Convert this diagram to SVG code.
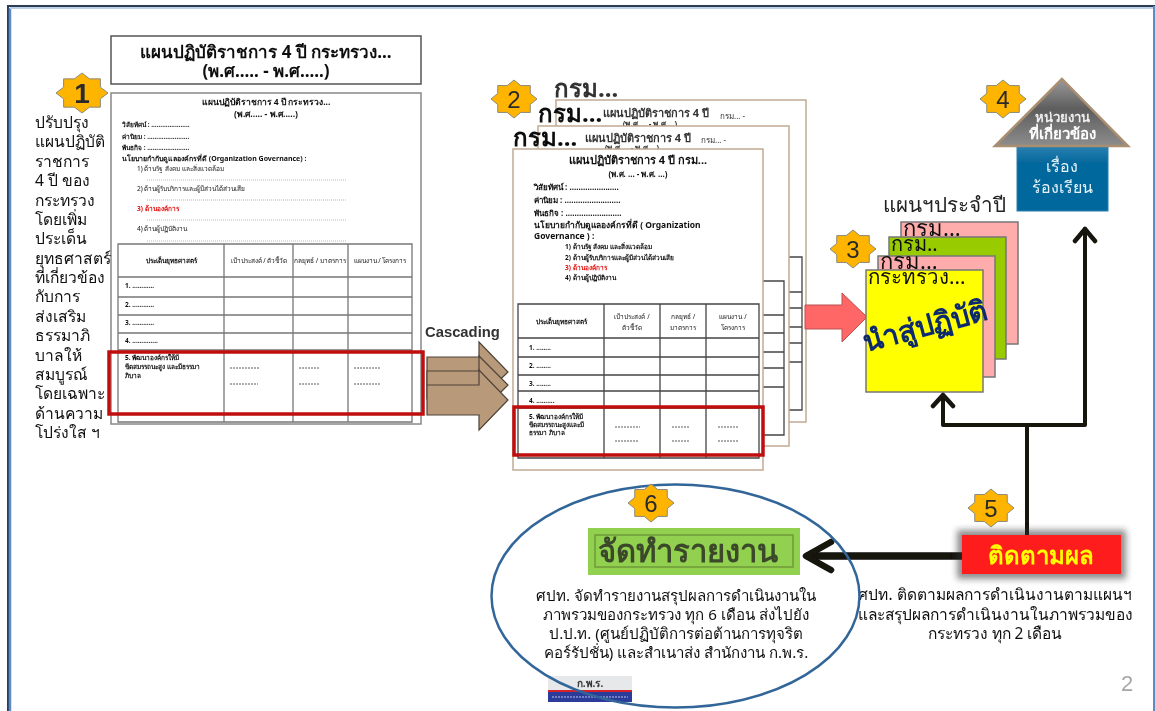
<svg xmlns="http://www.w3.org/2000/svg" width="1155" height="711" viewBox="0 0 1155 711">
<style>
text{font-family:"Noto Sans","DejaVu Sans","Liberation Sans",sans-serif;fill:#111}
.page{fill:#fff;stroke:#c2ab94;stroke-width:1.5}
.tb{fill:none;stroke:#444;stroke-width:1.3}
.tb1{fill:none;stroke:#777;stroke-width:1.3}
.red{fill:none;stroke:#c00d0d;stroke-width:3.5}
.star{fill:#ffb400;stroke:#8a8a7a;stroke-width:1;vector-effect:non-scaling-stroke}
.num{font-family:"Liberation Sans",sans-serif;font-size:24px;text-anchor:middle;fill:#2a2a2a}
.c{text-anchor:middle}
.t6{font-size:6.5px}
.t7{font-size:8.6px}
.b{font-weight:700}
.left{font-size:15.6px}
.card{stroke:#777;stroke-width:1.5}
.arr{fill:#b8997a;stroke:#4d4338;stroke-width:1.2}
.wire{fill:none;stroke:#15120f;stroke-linecap:round;stroke-linejoin:round}
.dash{stroke:#999;stroke-width:.7;stroke-dasharray:1 1}
.dashd{stroke:#333;stroke-width:.8;stroke-dasharray:2 1}
.cap{font-size:15.1px;text-anchor:middle}
.cap2{font-size:15.5px;text-anchor:middle}
</style>
<defs>
<polygon id="s8" class="star" points="1,0 .707,.293 .707,.707 .293,.707 0,1 -.293,.707 -.707,.707 -.707,.293 -1,0 -.707,-.293 -.707,-.707 -.293,-.707 0,-1 .293,-.707 .707,-.707 .707,-.293"/>
<linearGradient id="roof" x1="0" y1="0" x2="0" y2="1"><stop offset="0" stop-color="#9a9a9a"/><stop offset=".45" stop-color="#5d5d5d"/><stop offset="1" stop-color="#8d8d8d"/></linearGradient>
<linearGradient id="fade" x1="0" y1="0" x2="0" y2="1"><stop offset="0" stop-color="#2a7fb0"/><stop offset=".25" stop-color="#05689c"/><stop offset="1" stop-color="#05689c"/></linearGradient>
<filter id="soft" filterUnits="userSpaceOnUse" x="0" y="0" width="1155" height="711"><feGaussianBlur stdDeviation=".3"/></filter>
<filter id="all" filterUnits="userSpaceOnUse" x="0" y="0" width="1155" height="711"><feGaussianBlur stdDeviation=".35"/></filter>
<filter id="glow" x="-10%" y="-20%" width="120%" height="140%"><feGaussianBlur stdDeviation="3"/></filter>
</defs>
<rect width="1155" height="711" fill="#fff"/>
<g id="diagram" filter="url(#all)">
<g id="frame">
<path d="M8 711V6H1155" fill="none" stroke="#2c3e55" stroke-width="2"/>
<path d="M10 711V8" fill="none" stroke="#5b8bc9" stroke-width="2.5"/>
<path d="M10 8H1155" fill="none" stroke="#bcd0e8" stroke-width="2"/>
<path d="M1154 6V711" fill="none" stroke="#5b8bc9" stroke-width="2"/>
</g>

<g id="plan-ministry">
<rect x="111" y="36" width="310" height="48" fill="#fff" stroke="#555" stroke-width="1.5"/>
<text class="c b" x="266" y="58" font-size="17">แผนปฏิบัติราชการ 4 ปี กระทรวง...</text>
<text class="c b" x="266" y="77" font-size="17">(พ.ศ..... - พ.ศ.....)</text>
<rect x="111" y="93" width="310" height="331" fill="#fff" stroke="#888" stroke-width="1.5"/>
<g filter="url(#soft)">
<text class="c t7 b" x="266" y="105">แผนปฏิบัติราชการ 4 ปี กระทรวง...</text>
<text class="c t7 b" x="266" y="117">(พ.ศ..... - พ.ศ.....)</text>
<text class="t6 b" x="122" y="127">วิสัยทัศน์ : .....................</text>
<text class="t6 b" x="122" y="139">ค่านิยม : .......................</text>
<text class="t6 b" x="122" y="150">พันธกิจ : .......................</text>
<text class="b" font-size="7" x="122" y="161">นโยบายกำกับดูแลองค์กรที่ดี (Organization Governance) :</text>
<text class="t6" x="137" y="171">1) ด้านรัฐ สังคม และสิ่งแวดล้อม</text>
<text class="t6" x="137" y="191">2) ด้านผู้รับบริการและผู้มีส่วนได้ส่วนเสีย</text>
<text class="t6 b" x="137" y="211" style="fill:#e01010">3) ด้านองค์การ</text>
<text class="t6" x="137" y="231">4) ด้านผู้ปฏิบัติงาน</text>
<path class="dash" d="M147 180H346M147 200H346M147 220H346M147 241H346"/>
<text class="c t6 b" x="171" y="263">ประเด็นยุทธศาสตร์</text>
<text class="c t6" x="259" y="263">เป้าประสงค์ / ตัวชี้วัด</text>
<text class="c t6" x="320" y="263">กลยุทธ์ / มาตรการ</text>
<text class="c t6" x="380" y="263">แผนงาน / โครงการ</text>
<text class="t6 b" x="125" y="288">1. ............</text>
<text class="t6 b" x="125" y="307">2. ............</text>
<text class="t6 b" x="125" y="325">3. ............</text>
<text class="t6 b" x="125" y="343">4. ..............</text>
<text class="t6 b" x="125" y="360">5. พัฒนาองค์กรให้มี</text>
<text class="t6 b" x="125" y="369">ขีดสมรรถนะสูง และมีธรรมา</text>
<text class="t6 b" x="125" y="378">ภิบาล</text>
<path class="dashd" d="M230 368H260M230 384H258M299 368H320M299 384H320M354 368H380M354 384H380"/>
</g>
<path class="tb1" d="M118 244H412V422H118ZM118 277H412M118 297H412M118 315H412M118 333H412M118 350H412M224 244V422M293 244V422M348 244V422"/>
<rect class="red" x="109" y="352" width="314" height="62"/>
</g>

<g id="note-1">
<text class="left" x="35" y="128">ปรับปรุง</text>
<text class="left" x="35" y="147">แผนปฏิบัติ</text>
<text class="left" x="35" y="167">ราชการ</text>
<text class="left" x="35" y="186">4 ปี ของ</text>
<text class="left" x="35" y="206">กระทรวง</text>
<text class="left" x="35" y="225">โดยเพิ่ม</text>
<text class="left" x="35" y="244">ประเด็น</text>
<text class="left" x="35" y="264">ยุทธศาสตร์</text>
<text class="left" x="35" y="283">ที่เกี่ยวข้อง</text>
<text class="left" x="35" y="302">กับการ</text>
<text class="left" x="35" y="322">ส่งเสริม</text>
<text class="left" x="35" y="341">ธรรมาภิ</text>
<text class="left" x="35" y="361">บาลให้</text>
<text class="left" x="35" y="380">สมบูรณ์</text>
<text class="left" x="35" y="399">โดยเฉพาะ</text>
<text class="left" x="35" y="419">ด้านความ</text>
<text class="left" x="35" y="438">โปร่งใส ฯ</text>
</g>
<g id="badge-1"><use href="#s8" transform="translate(82 93) scale(26 20)"/><text class="num b" style="font-size:28px" x="82" y="103">1</text></g>

<g id="cascading">
<text class="b" x="425" y="337" font-size="14.8" style="font-family:'Liberation Sans',sans-serif;fill:#333">Cascading</text>
<path class="arr" d="M427 357H479V342L508 372L479 400V385H427Z"/>
<path class="arr" d="M427 371H479V356L508 385L479 414V399H427Z"/>
<path class="arr" d="M427 385H479V370L508 400L479 430V415H427Z"/>
</g>

<g id="plan-departments">
<text class="b" x="554" y="97" font-size="24" style="fill:#333">กรม...</text>
<rect class="page" x="556" y="100" width="250" height="322"/>
<g filter="url(#soft)">
<text class="b" x="603" y="117" font-size="11" style="fill:#333">แผนปฏิบัติราชการ 4 ปี</text>
<text x="720" y="119" font-size="8" style="fill:#333">กรม...  -</text>
<text class="c b" x="650" y="127" font-size="8" style="fill:#333">(พ.ศ.... - พ.ศ....)</text>
</g>
<path class="tb" d="M720 257H802V410H720M720 292H802M720 308H802M720 327H802M720 343H802M720 362H802"/>
<text class="b" x="538" y="122" font-size="24">กรม...</text>
<rect class="page" x="538" y="126" width="251" height="320"/>
<g filter="url(#soft)">
<text class="b" x="585" y="142" font-size="11" style="fill:#333">แผนปฏิบัติราชการ 4 ปี</text>
<text x="701" y="143" font-size="8" style="fill:#333">กรม...  -</text>
<text class="c b" x="632" y="151" font-size="8" style="fill:#333">(พ.ศ.... - พ.ศ....)</text>
</g>
<path class="tb" d="M700 281H784V435H700M700 315H784M700 333H784M700 352H784M700 368H784M700 387H784"/>
<text class="b" x="513" y="146" font-size="24">กรม...</text>
<rect class="page" x="513" y="149" width="250" height="321"/>
<g filter="url(#soft)">
<text class="c b" x="638" y="164" font-size="11">แผนปฏิบัติราชการ 4 ปี กรม...</text>
<text class="c b" x="638" y="177" font-size="8">(พ.ศ. ... - พ.ศ. ...)</text>
<text class="b" x="534" y="190" font-size="8">วิสัยทัศน์ : ......................</text>
<text class="b" x="534" y="203" font-size="8">ค่านิยม : .........................</text>
<text class="b" x="534" y="216" font-size="8">พันธกิจ : .........................</text>
<text class="b" x="534" y="228" font-size="8.5">นโยบายกำกับดูแลองค์กรที่ดี ( Organization</text>
<text class="b" x="534" y="239" font-size="8.5">Governance ) :</text>
<text x="565" y="249" font-size="6.5" class="b">1) ด้านรัฐ สังคม และสิ่งแวดล้อม</text>
<text x="565" y="260" font-size="6.5" class="b">2) ด้านผู้รับบริการและผู้มีส่วนได้ส่วนเสีย</text>
<text x="565" y="270" font-size="6.5" class="b" style="fill:#e01010">3) ด้านองค์การ</text>
<text x="565" y="280" font-size="6.5" class="b">4) ด้านผู้ปฏิบัติงาน</text>
<text class="c t6 b" x="561" y="324">ประเด็นยุทธศาสตร์</text>
<text class="c t6" x="632" y="319">เป้าประสงค์ /</text><text class="c t6" x="632" y="330">ตัวชี้วัด</text>
<text class="c t6" x="683" y="319">กลยุทธ์ /</text><text class="c t6" x="683" y="330">มาตรการ</text>
<text class="c t6" x="733" y="319">แผนงาน /</text><text class="c t6" x="733" y="330">โครงการ</text>
<text class="t6 b" x="529" y="350">1. ........</text>
<text class="t6 b" x="529" y="368">2. ........</text>
<text class="t6 b" x="529" y="386">3. ........</text>
<text class="t6 b" x="529" y="403">4. ..........</text>
<text class="t6 b" x="529" y="419">5. พัฒนาองค์กรให้มี</text>
<text class="t6 b" x="529" y="427">ขีดสมรรถนะสูงและมี</text>
<text class="t6 b" x="529" y="435">ธรรมา ภิบาล</text>
<path class="dashd" d="M615 427H640M615 441H639M672 427H690M672 441H690M718 427H739M718 441H739"/>
</g>
<path class="tb" d="M518 304H759V458H518ZM518 338H759M518 357H759M518 375H759M518 391H759M518 408H759M604 304V458M660 304V458M706 304V458"/>
<rect class="red" x="514" y="407" width="249" height="48"/>
</g>
<g id="badge-2"><use href="#s8" transform="translate(514 99) scale(23 19)"/><text class="num" x="514" y="108">2</text></g>

<g id="arrow-implement"><path d="M805 305H842V293L867 317L842 342V329H805Z" fill="#ff6666" stroke="#b85050" stroke-width="1"/></g>

<g id="annual-plans">
<text x="883" y="212" font-size="20.6" style="fill:#222">แผนฯประจำปี</text>
<rect class="card" x="901" y="222" width="117" height="122" fill="#ffacac"/>
<text x="903" y="236" font-size="22">กรม...</text>
<rect class="card" x="889" y="237" width="117" height="122" fill="#99cc00"/>
<text x="891" y="251" font-size="20">กรม..</text>
<rect class="card" x="878" y="256" width="117" height="121" fill="#ffacac"/>
<text x="880" y="269" font-size="22">กรม...</text>
<rect class="card" x="866" y="270" width="117" height="122" fill="#ffff00"/>
<text x="868" y="284" font-size="20.5">กระทรวง...</text>
<text class="b c" x="925" y="336" font-size="29" transform="rotate(-15 925 326)" style="fill:#0d2a6e">นำสู่ปฏิบัติ</text>
</g>
<g id="badge-3"><use href="#s8" transform="translate(853 249) scale(23 19)"/><text class="num" x="853" y="258">3</text></g>

<g id="agencies">
<rect x="1017" y="147" width="91" height="64" fill="url(#fade)" stroke="#2f7fad" stroke-width="1"/>
<polygon points="1062,79 995,146 1128,146" fill="url(#roof)" stroke="#a98e72" stroke-width="2.5"/>
<text class="c b" x="1062" y="122" font-size="13.2" style="fill:#eee">หน่วยงาน</text>
<text class="c b" x="1062" y="139" font-size="15" style="fill:#fff">ที่เกี่ยวข้อง</text>
<text class="c" x="1062" y="172" font-size="16" style="fill:#e8f4fa">เรื่อง</text>
<text class="c" x="1062" y="193" font-size="16" style="fill:#e8f4fa">ร้องเรียน</text>
</g>
<g id="badge-4"><use href="#s8" transform="translate(1003 99) scale(23 19)"/><text class="num" x="1003" y="108">4</text></g>

<g id="connectors">
<path class="wire" stroke-width="4" d="M1027 535V425M943 425H1085M943 425V396M1085 425V229"/>
<path class="wire" stroke-width="4.5" d="M933 406L943 395L953 406M1075 241L1085 229L1095 241"/>
<path class="wire" stroke-width="7.5" d="M962 556H808" stroke-linecap="butt"/>
<path class="wire" stroke-width="6.5" d="M831 542L806 556L831 570"/>
</g>

<g id="follow-up">
<rect x="957" y="530" width="169" height="49" fill="#333" opacity=".55" filter="url(#glow)"/>
<rect x="962" y="535" width="159" height="39" fill="#ff1a1a"/>
<text class="c b" x="1041" y="564" font-size="24" style="fill:#ffff00">ติดตามผล</text>
<text class="cap2" x="995" y="600">ศปท. ติดตามผลการดำเนินงานตามแผนฯ</text>
<text class="cap2" x="995" y="620">และสรุปผลการดำเนินงานในภาพรวมของ</text>
<text class="cap2" x="995" y="639">กระทรวง ทุก 2 เดือน</text>
</g>
<g id="badge-5"><use href="#s8" transform="translate(991 508) scale(23 19)"/><text class="num" x="991" y="517">5</text></g>

<g id="report">
<rect x="588" y="528" width="212" height="47" fill="#92d050"/>
<rect x="595" y="535" width="198" height="32" fill="#92d050" stroke="#6f9a3c" stroke-width="1.5"/>
<text class="c b" x="688" y="562" font-size="31" style="fill:#3a4a2a">จัดทำรายงาน</text>
<text class="cap" x="676" y="601">ศปท. จัดทำรายงานสรุปผลการดำเนินงานใน</text>
<text class="cap" x="676" y="620">ภาพรวมของกระทรวง ทุก 6 เดือน ส่งไปยัง</text>
<text class="cap" x="676" y="639">ป.ป.ท. (ศูนย์ปฏิบัติการต่อต้านการทุจริต</text>
<text class="cap" x="676" y="658">คอร์รัปชั่น) และสำเนาส่ง สำนักงาน ก.พ.ร.</text>
<g id="logo">
<rect x="548" y="676" width="84" height="15" fill="#e6e8ea"/>
<text class="c b" x="590" y="687" font-size="10" style="fill:#333">ก.พ.ร.</text>
<rect x="548" y="690" width="84" height="2" fill="#d8202a"/>
<rect x="548" y="692" width="84" height="10" fill="#2a3a9a"/>
<path d="M552 697H628" stroke="#8f96cc" stroke-width="1.5" stroke-dasharray="2 1"/>
</g>
<ellipse cx="675.5" cy="596" rx="184" ry="111.5" fill="none" stroke="#336699" stroke-width="2.5"/>
</g>
<g id="badge-6"><use href="#s8" transform="translate(651 503) scale(23 19)"/><text class="num" x="651" y="512">6</text></g>

<text id="page-no" x="1127" y="691" text-anchor="middle" font-size="22" style="fill:#a6a6a6;font-family:'Liberation Sans',sans-serif">2</text>
</g>
</svg>
